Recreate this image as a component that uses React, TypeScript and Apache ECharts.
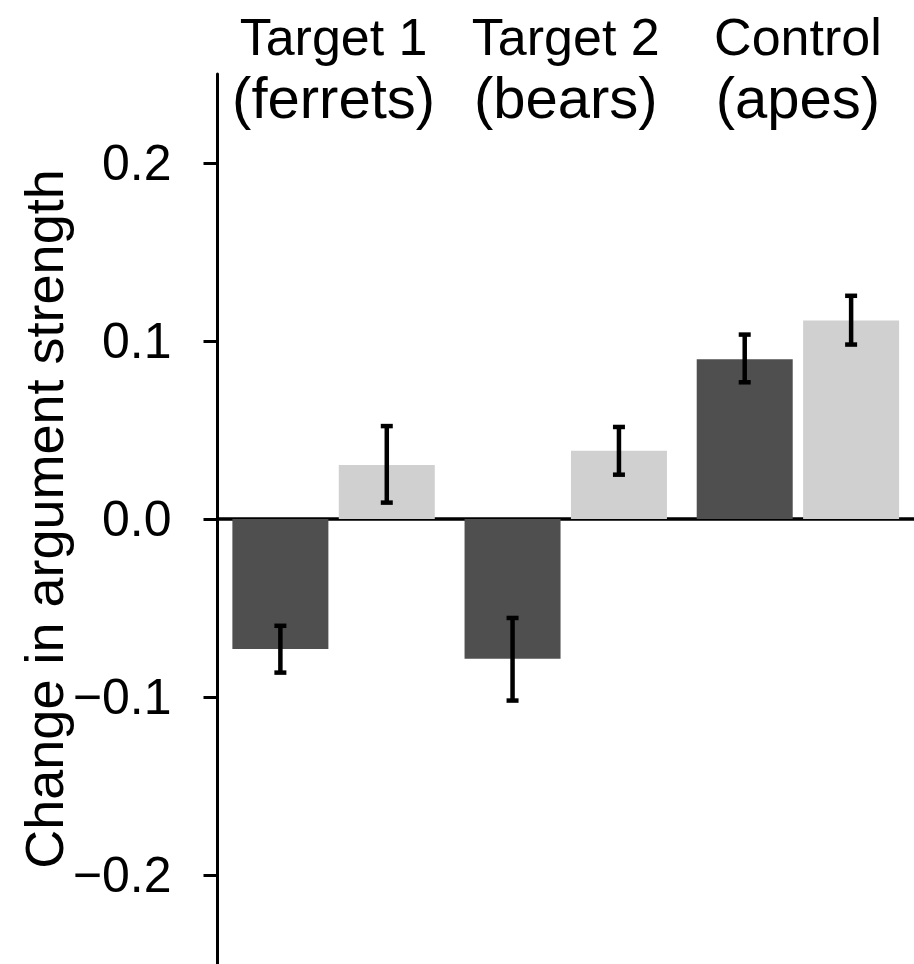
import React, { useEffect, useRef } from "react";
import * as echarts from "echarts";

const categories = ["Target 1", "Target 2", "Control"];
const categorySub = ["(ferrets)", "(bears)", "(apes)"];
const darkValues = [-0.073, -0.0785, 0.0897];
const darkLow = [-0.0863, -0.102, 0.0768];
const darkHigh = [-0.060, -0.0556, 0.1036];
const lightValues = [0.0304, 0.0383, 0.1115];
const lightLow = [0.0092, 0.0249, 0.098];
const lightHigh = [0.0522, 0.0517, 0.1254];
const yTicks = [-0.2, -0.1, 0, 0.1, 0.2];
const yTitle = "Change in argument strength";

const FONT = "'Liberation Sans', Arial, Helvetica, sans-serif";
const BAR_W = 96;
const BAR_GAP = 10.4;

export default function App() {
  const ref = useRef<HTMLDivElement>(null);
  useEffect(() => {
    if (!ref.current) return;
    const chart = echarts.init(ref.current, null, { renderer: "svg" });
    const errData: number[][] = [];
    categories.forEach((_, i) => {
      errData.push([i, darkLow[i], darkHigh[i], 0]);
      errData.push([i, lightLow[i], lightHigh[i], 1]);
    });
    const offset = (BAR_W + BAR_GAP) / 2;
    chart.setOption({
      animation: false,
      backgroundColor: "#ffffff",
      textStyle: { fontFamily: FONT },
      grid: { left: 217.5, top: 74, width: 702, height: 895, containLabel: false },
      xAxis: [
        {
          type: "category",
          data: categories,
          axisLine: { show: true, onZero: true, lineStyle: { color: "#000", width: 3.5 } },
          axisTick: { show: false },
          axisLabel: { show: false },
          splitLine: { show: false },
        },
        {
          type: "category",
          data: categories,
          position: "top",
          offset: -53,
          axisLine: { show: false },
          axisTick: { show: false },
          splitLine: { show: false },
          axisLabel: {
            show: true,
            margin: 0,
            interval: 0,
            formatter: (v: string, i: number) => `{a|${v}}\n{b|${categorySub[i]}}`,
            rich: {
              a: { fontFamily: FONT, fontSize: 52, lineHeight: 60, color: "#000" },
              b: { fontFamily: FONT, fontSize: 58, lineHeight: 60, color: "#000" },
            },
          },
        },
      ],
      yAxis: {
        type: "value",
        min: -0.25,
        max: 0.25,
        name: yTitle,
        nameLocation: "middle",
        nameRotate: 90,
        nameGap: 147,
        nameMoveOverlap: false,
        nameTextStyle: { fontFamily: FONT, fontSize: 54, color: "#000" },
        axisLine: { show: true, onZero: false, lineStyle: { color: "#000", width: 3 } },
        axisTick: {
          show: true,
          inside: false,
          length: 14,
          lineStyle: { color: "#000", width: 3 },
          customValues: yTicks,
        },
        axisLabel: {
          show: true,
          margin: 46,
          fontFamily: FONT,
          fontSize: 50,
          color: "#000",
          customValues: yTicks,
          formatter: (v: number) =>
            (v < 0 ? "\u2212" : "") + Math.abs(v).toFixed(1),
        },
        splitLine: { show: false },
      },
      series: [
        {
          name: "Condition 1",
          type: "bar",
          data: darkValues,
          barWidth: BAR_W,
          barGap: (BAR_GAP / BAR_W) * 100 + "%",
          itemStyle: { color: "#4f4f4f" },
          z: 2,
        },
        {
          name: "Condition 2",
          type: "bar",
          data: lightValues,
          barWidth: BAR_W,
          itemStyle: { color: "#d0d0d0" },
          z: 2,
        },
        {
          type: "custom",
          name: "errors",
          data: errData,
          z: 5,
          encode: { x: 0, y: [1, 2] },
          renderItem: (params: any, api: any) => {
            const ci = api.value(0);
            const lo = api.value(1);
            const hi = api.value(2);
            const s = api.value(3);
            const pLo = api.coord([ci, lo]);
            const pHi = api.coord([ci, hi]);
            const x = pLo[0] + (s === 0 ? -offset : offset);
            const cap = 6;
            const style = { stroke: "#000", lineWidth: 4.5 };
            return {
              type: "group",
              children: [
                { type: "line", shape: { x1: x, y1: pLo[1], x2: x, y2: pHi[1] }, style },
                { type: "line", shape: { x1: x - cap, y1: pLo[1], x2: x + cap, y2: pLo[1] }, style },
                { type: "line", shape: { x1: x - cap, y1: pHi[1], x2: x + cap, y2: pHi[1] }, style },
              ],
            };
          },
        },
      ],
    });
    return () => chart.dispose();
  }, []);
  return (
    <div
      ref={ref}
      style={{ position: "fixed", left: 0, top: 0, width: 914, height: 964, background: "#fff" }}
    />
  );
}
